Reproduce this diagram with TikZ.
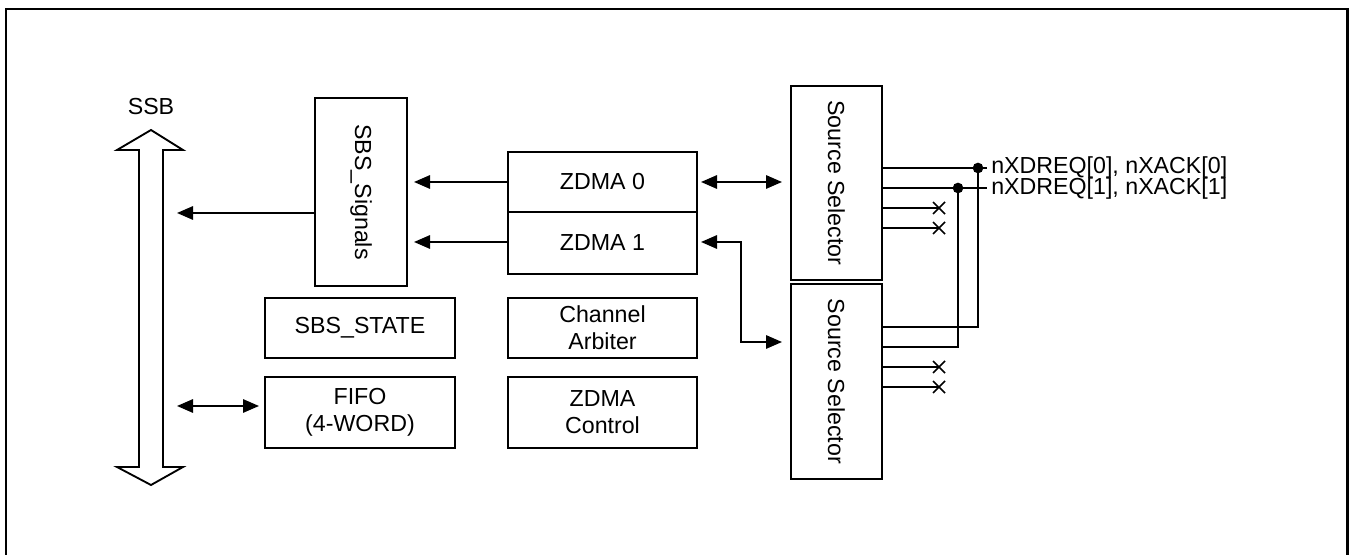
\documentclass[tikz,border=0pt]{standalone}
\usepackage{fontspec}
\setmainfont{Liberation Sans}
\usetikzlibrary{arrows.meta,calc}
\begin{document}
\begin{tikzpicture}[x=0.75pt,y=-0.75pt,
  font=\fontsize{17.4pt}{20.25pt}\selectfont,
  box/.style={draw,line width=1.5pt,inner sep=0pt,align=center},
  conn/.style={line width=1.5pt},
  tip/.style={-{Triangle[length=12pt,width=10pt]}},
  dtip/.style={{Triangle[length=12pt,width=10pt]}-{Triangle[length=12pt,width=10pt]}},
  xm/.style={line width=1.1pt},
  lbl/.style={inner sep=0pt,anchor=west,text height=12.5pt,text depth=2pt}
]
\useasboundingbox (0,0) rectangle (1349,555);
% outer frame
\draw[line width=2pt] (6,560) -- (6,9) -- (1347.5,9) -- (1347.5,560);

% SSB double arrow
\draw[line width=1.4pt,line join=miter] (151,130) -- (183,150) -- (163,150) -- (163,467) -- (183,467) -- (151,485) -- (117,467) -- (139,467) -- (139,150) -- (117,150) -- cycle;
\coordinate (ssbR) at (163,308);
\node (ssblabel) at (151,107) {SSB};

% boxes
\node[box,minimum width=69pt,minimum height=141pt] (sbs) at (361,192) {\rotatebox{-90}{SBS\_Signals}};
\node[box,minimum width=142.5pt,minimum height=45pt] (state) at (360,328) {SBS\_STATE};
\node[box,minimum width=142.5pt,minimum height=53.25pt] (fifo) at (360,412.5) {FIFO\\(4-WORD)};
\node[box,minimum width=141.75pt,minimum height=45pt] (zdma0) at (602.5,182) {ZDMA 0};
\node[box,minimum width=141.75pt,minimum height=46.5pt] (zdma1) at (602.5,243) {ZDMA 1};
\node[box,minimum width=141.75pt,minimum height=45pt] (arb) at (602.5,328) {Channel\\Arbiter};
\node[box,minimum width=141.75pt,minimum height=53.25pt] (ctrl) at (602.5,412.5) {ZDMA\\Control};
\node[box,minimum width=68.25pt,minimum height=145.5pt] (ss1) at (836.5,183) {\rotatebox{-90}{Source Selector}};
\node[box,minimum width=68.25pt,minimum height=146.25pt] (ss2) at (836.5,381.5) {\rotatebox{-90}{Source Selector}};

% left side arrows
\draw[conn,tip,shorten >=10.5pt] ([yshift=-15.75pt]sbs.west) -- (ssbR |- 0,213);
\draw[conn,dtip,shorten <=10.5pt,shorten >=3.75pt] (ssbR |- 0,406) -- (fifo.west |- 0,406);
\draw[conn,tip,shorten >=4.5pt] (zdma0.west) -- (sbs.east |- zdma0.west);
\draw[conn,tip,shorten >=4.5pt] (zdma1.west |- 0,242) -- (sbs.east |- 0,242);
\draw[conn,dtip,shorten <=2.25pt,shorten >=6pt] (zdma0.east) -- (ss1.west |- zdma0.east);
\coordinate (bend) at (741,342);
\draw[conn,dtip,shorten <=2.25pt,shorten >=6pt] (zdma1.east |- 0,242) -| (bend) -- (ss2.west |- bend);

% right side signals
\node[lbl] (lbl0) at (991,167) {nXDREQ[0], nXACK[0]};
\node[lbl] (lbl1) at (991,187.5) {nXDREQ[1], nXACK[1]};
\coordinate (j0) at (978,168);
\coordinate (j1) at (958,188);
\coordinate (xa) at (939,208);
\coordinate (xb) at (939,228);
\coordinate (xc) at (939,367);
\coordinate (xd) at (939,387);

\draw[conn,shorten >=3pt] (ss1.east |- j0) -- (lbl0.west |- j0);
\draw[conn,shorten >=3pt] (ss1.east |- j1) -- (lbl1.west |- j1);
\draw[conn] (ss1.east |- xa) -- (xa);
\draw[conn] (ss1.east |- xb) -- (xb);
\draw[conn] (ss2.east |- 0,327) -| (j0);
\draw[conn] (ss2.east |- 0,347) -| (j1);
\draw[conn] (ss2.east |- xc) -- (xc);
\draw[conn] (ss2.east |- xd) -- (xd);
\foreach \p in {xa,xb,xc,xd}
  \draw[xm] (\p) +(-6,-6) -- +(6,6) +(-6,6) -- +(6,-6);
\fill (j0) circle[radius=4pt];
\fill (j1) circle[radius=4pt];
\end{tikzpicture}
\end{document}
